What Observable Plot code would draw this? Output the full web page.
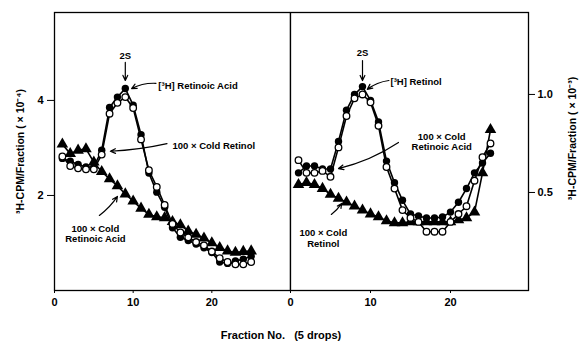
<!DOCTYPE html>
<html><head><meta charset="utf-8">
<script src="https://cdn.jsdelivr.net/npm/d3@7"></script>
<script src="https://cdn.jsdelivr.net/npm/@observablehq/plot@0.6"></script>
<style>
body{margin:0;background:#fff;}
#wrap{position:relative;width:580px;height:341px;font-family:"Liberation Sans",Arial,sans-serif;font-weight:bold;color:#000;}
#left,#right{position:absolute;top:0;}
#left{left:0}
#right{left:290px}
#xlabel{position:absolute;top:329px;left:0;width:562px;text-align:center;font-size:11px;white-space:pre;}
</style></head><body>
<div id="wrap"><div id="left"></div><div id="right"></div><div id="xlabel">Fraction No.   (5 drops)</div></div>
<script>
// Fraction numbers
const fractions = [1,2,3,4,5,6,7,8,9,10,11,12,13,14,15,16,17,18,19,20,21,22,23,24,25];

// Left panel: [3H] Retinoic Acid (x 10^-4 CPM/fraction)
const leftControl   = [2.78,2.72,2.65,2.6,2.6,2.95,3.85,4.07,4.25,3.9,3.28,2.47,2.07,1.75,1.32,1.12,1.05,0.98,0.9,0.8,0.6,0.57,0.62,0.66,0.72];
const leftColdRetinol = [2.82,2.62,2.57,2.55,2.55,2.86,3.72,3.95,4.07,3.84,3.18,2.53,2.18,1.8,1.4,1.22,1.12,1.02,0.95,0.82,0.68,0.6,0.55,0.55,0.6];
const leftColdRA    = [3.08,2.88,2.95,2.98,2.7,2.5,2.35,2.2,2.03,1.88,1.73,1.6,1.55,1.53,1.45,1.38,1.25,1.18,1.1,1.0,0.9,0.83,0.8,0.82,0.83];

// Right panel: [3H] Retinol (x 10^-3 CPM/fraction)
const rightControl  = [0.6,0.635,0.635,0.62,0.62,0.76,0.92,1.0,1.04,0.97,0.86,0.66,0.55,0.46,0.39,0.38,0.37,0.37,0.375,0.4,0.45,0.52,0.6,0.65,0.7];
const rightColdRA   = [0.665,0.6,0.6,0.61,0.58,0.73,0.89,0.98,1.0,0.96,0.84,0.63,0.52,0.41,0.37,0.35,0.3,0.3,0.3,0.35,0.39,0.43,0.56,0.68,0.75];
const rightColdRetinol = [0.54,0.55,0.54,0.52,0.49,0.47,0.45,0.43,0.41,0.39,0.375,0.355,0.345,0.345,0.35,0.35,0.35,0.35,0.35,0.35,0.36,0.37,0.4,0.6,0.82];

const xTicks = [0,10,20];
const leftYTicks = [2,4];
const rightYTicks = [0.5,1.0];

// Annotations (data coordinates)
const leftNotes = [
  {x:9.0, y:4.95, text:"2S", anchor:"middle"},
  {x:13.2, y:4.32, text:"[³H] Retinoic Acid", anchor:"start"},
  {x:15.0, y:3.05, text:"100 × Cold Retinol", anchor:"start"},
  {x:5.2, y:1.2, text:"100 × Cold\nRetinoic Acid", anchor:"middle"}
];
const leftArrows = [
  {x1:9.0, y1:4.8, x2:9.0, y2:4.42, bend:0},
  {x1:12.9, y1:4.36, x2:9.8, y2:4.25, bend:-15},
  {x1:14.3, y1:3.09, x2:7.1, y2:2.93, bend:5},
  {x1:5.7, y1:1.58, x2:8.0, y2:1.98, bend:-10}
];
const rightNotes = [
  {x:9.0, y:1.214, text:"2S", anchor:"middle"},
  {x:12.5, y:1.066, text:"[³H] Retinol", anchor:"start"},
  {x:18.9, y:0.76, text:"100 × Cold\nRetinoic Acid", anchor:"middle"},
  {x:4.1, y:0.268, text:"100 × Cold\nRetinol", anchor:"middle"}
];
const rightArrows = [
  {x1:9.0, y1:1.173, x2:9.0, y2:1.071, bend:0},
  {x1:12.3, y1:1.071, x2:9.6, y2:1.026, bend:-15},
  {x1:13.5, y1:0.755, x2:6.0, y2:0.622, bend:10},
  {x1:5.1, y1:0.388, x2:6.4, y2:0.444, bend:-10}
];

const font = '"Liberation Sans", Arial, sans-serif';
const ser = vals => fractions.map((f,i)=>({f, v:vals[i]}));

function panelMarks(control, open, tri, notes, arrows) {
  const c = ser(control), o = ser(open), t = ser(tri);
  return [
    Plot.line(t, {x:"f", y:"v", stroke:"black", strokeWidth:1.6}),
    Plot.line(o, {x:"f", y:"v", stroke:"black", strokeWidth:1.6}),
    Plot.line(c, {x:"f", y:"v", stroke:"black", strokeWidth:1.6}),
    Plot.dot(t, {x:"f", y:"v", symbol:"triangle", r:4.3, fill:"black"}),
    Plot.dot(c, {x:"f", y:"v", r:3.7, fill:"black"}),
    Plot.dot(o, {x:"f", y:"v", r:3.3, fill:"white", stroke:"black", strokeWidth:1.3}),
    ...arrows.map(a => Plot.arrow([a], {x1:"x1", y1:"y1", x2:"x2", y2:"y2", bend:a.bend, stroke:"black", strokeWidth:1.2, headLength:7, headAngle:50})),
    Plot.text(notes.filter(d=>d.anchor==="start"), {x:"x", y:"y", text:"text", textAnchor:"start", fontSize:9.5, fontWeight:"bold", fill:"black", lineHeight:1.15}),
    Plot.text(notes.filter(d=>d.anchor==="middle"), {x:"x", y:"y", text:"text", textAnchor:"middle", fontSize:9.5, fontWeight:"bold", fill:"black", lineHeight:1.15})
  ];
}

const style = {fontFamily:font, fontSize:"11px", fontWeight:"bold", color:"black", background:"white", overflow:"visible"};

const left = Plot.plot({
  width:290, height:341, marginLeft:54, marginRight:0, marginTop:12, marginBottom:51,
  style,
  x:{domain:[0,30]},
  y:{domain:[0,5.85]},
  marks:[
    Plot.frame({stroke:"black", strokeWidth:1.3}),
    Plot.axisX({ticks:xTicks, tickSize:3, tickPadding:5, label:null, fontSize:11, fontWeight:"bold"}),
    Plot.axisY({ticks:leftYTicks, tickFormat:d=>String(d), tickSize:7, tickPadding:4, label:null, fontSize:11, fontWeight:"bold"}),
    Plot.text(["³H-CPM/Fraction ( × 10⁻⁴)"], {frameAnchor:"left", rotate:-90, dx:-34, textAnchor:"middle", fontSize:10.5, fontWeight:"bold", fill:"black"}),
    ...panelMarks(leftControl, leftColdRetinol, leftColdRA, leftNotes, leftArrows)
  ]
});

const right = Plot.plot({
  width:290, height:341, marginLeft:0, marginRight:52, marginTop:12, marginBottom:51,
  style,
  x:{domain:[0,29.75]},
  y:{domain:[0,1.418]},
  marks:[
    Plot.frame({stroke:"black", strokeWidth:1.3}),
    Plot.axisX({ticks:xTicks, tickSize:3, tickPadding:5, label:null, fontSize:11, fontWeight:"bold"}),
    Plot.axisY({anchor:"right", ticks:rightYTicks, tickFormat:d=>d.toFixed(1), tickSize:6, tickPadding:3, label:null, fontSize:11, fontWeight:"bold"}),
    Plot.text(["³H-CPM/Fraction ( × 10⁻³)"], {frameAnchor:"right", rotate:-90, dx:44, dy:-13, textAnchor:"middle", fontSize:10.5, fontWeight:"bold", fill:"black"}),
    ...panelMarks(rightControl, rightColdRA, rightColdRetinol, rightNotes, rightArrows)
  ]
});

document.getElementById("left").appendChild(left);
document.getElementById("right").appendChild(right);
</script>
</body></html>
